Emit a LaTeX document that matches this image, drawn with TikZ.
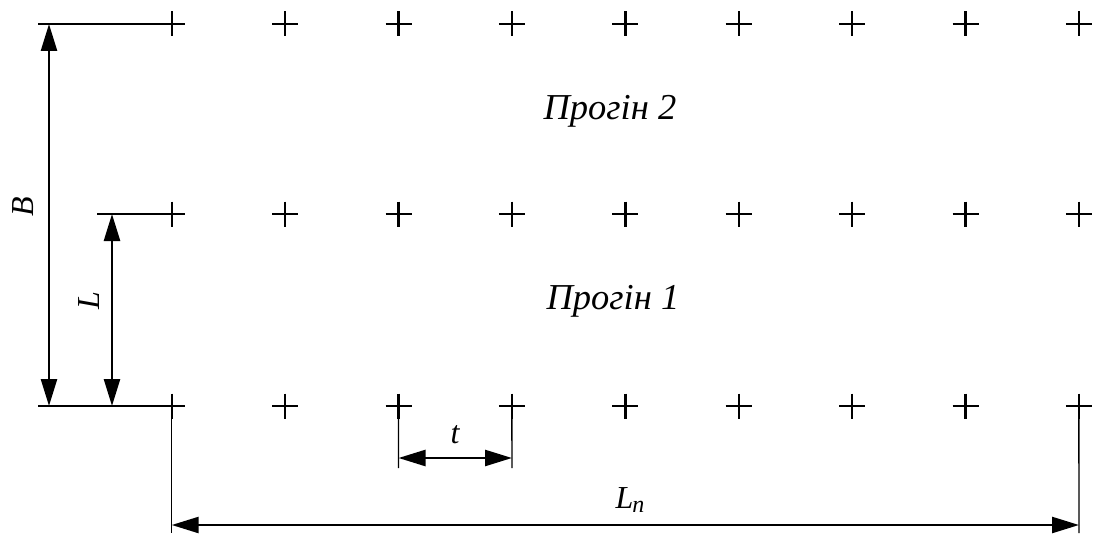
\documentclass[tikz,border=0pt]{standalone}
\usepackage{fontspec}
\setmainfont{Liberation Serif}
\usetikzlibrary{arrows.meta,calc}
\begin{document}
\begin{tikzpicture}[x=1pt,y=-1pt,
  crossmark/.style={line width=2.4pt},
  extline/.style={line width=1.4pt},
  dimline/.style={line width=2.5pt,{Triangle[length=27pt,width=16pt]}-{Triangle[length=27pt,width=16pt]}},
  lbl/.style={font=\fontsize{32}{35}\selectfont\itshape,inner sep=0pt,anchor=base},
  span/.style={font=\fontsize{36.5}{40}\selectfont\itshape,inner sep=0pt,anchor=base}]
\useasboundingbox (0,0) rectangle (1093,535);
% cross positions
\foreach \r/\yy in {1/24,2/214,3/406}{
  \foreach \i in {0,...,8}{
    \coordinate (c\r-\i) at ({171.7+113.4*\i},\yy);
    \draw[crossmark] ($(c\r-\i)+(-13,0)$) -- ($(c\r-\i)+(13,0)$)
                     ($(c\r-\i)+(0,-12.5)$) -- ($(c\r-\i)+(0,12.5)$);
  }
}
% extension lines left
\coordinate (eB1) at (38,24);
\coordinate (eL1) at (97,214);
\coordinate (eB3) at (38,406);
\draw[extline] (eB1) -- ($(c1-0)+(-13,0)$);
\draw[extline] (eL1) -- ($(c2-0)+(-13,0)$);
\draw[extline] (eB3) -- ($(c3-0)+(-13,0)$);
% B and L
\coordinate (Bt) at (49,24);
\coordinate (Bb) at (49,406);
\coordinate (Lt) at (112,214);
\coordinate (Lb) at (112,406);
\draw[dimline] (Bt) -- (Bb);
\draw[dimline] (Lt) -- (Lb);
\node[lbl,rotate=90] (labB) at (33,207) {B};
\node[lbl,rotate=90] (labL) at (99,301) {L};
% t
\coordinate (t1) at (398.5,468);
\coordinate (t2) at (512,468);
\draw[extline] ($(c3-2)+(0,12)$) -- (t1);
\draw[extline] ($(c3-3)+(0,12)$) -- (t2);
\coordinate (ta) at (398.5,458);
\coordinate (tb) at (512,458);
\draw[dimline] (ta) -- (tb);
\node[lbl] (labt) at (455,443) {t};
% Ln
\coordinate (n1) at (171.7,533);
\coordinate (n2) at (1079,533);
\draw[extline] ($(c3-0)+(0,12)$) -- (n1);
\draw[extline] ($(c3-8)+(0,12)$) -- (n2);
\coordinate (na) at (171.7,525);
\coordinate (nb) at (1079,525);
\draw[dimline] (na) -- (nb);
\node[lbl] (labLn) at (630,508) {L\kern-1pt\raisebox{-4pt}{\fontsize{24}{26}\selectfont n}};
% spans
\node[span] (s2) at (610,119) {Прогін 2};
\node[span] (s1) at (613,309) {Прогін 1};
\end{tikzpicture}
\end{document}
